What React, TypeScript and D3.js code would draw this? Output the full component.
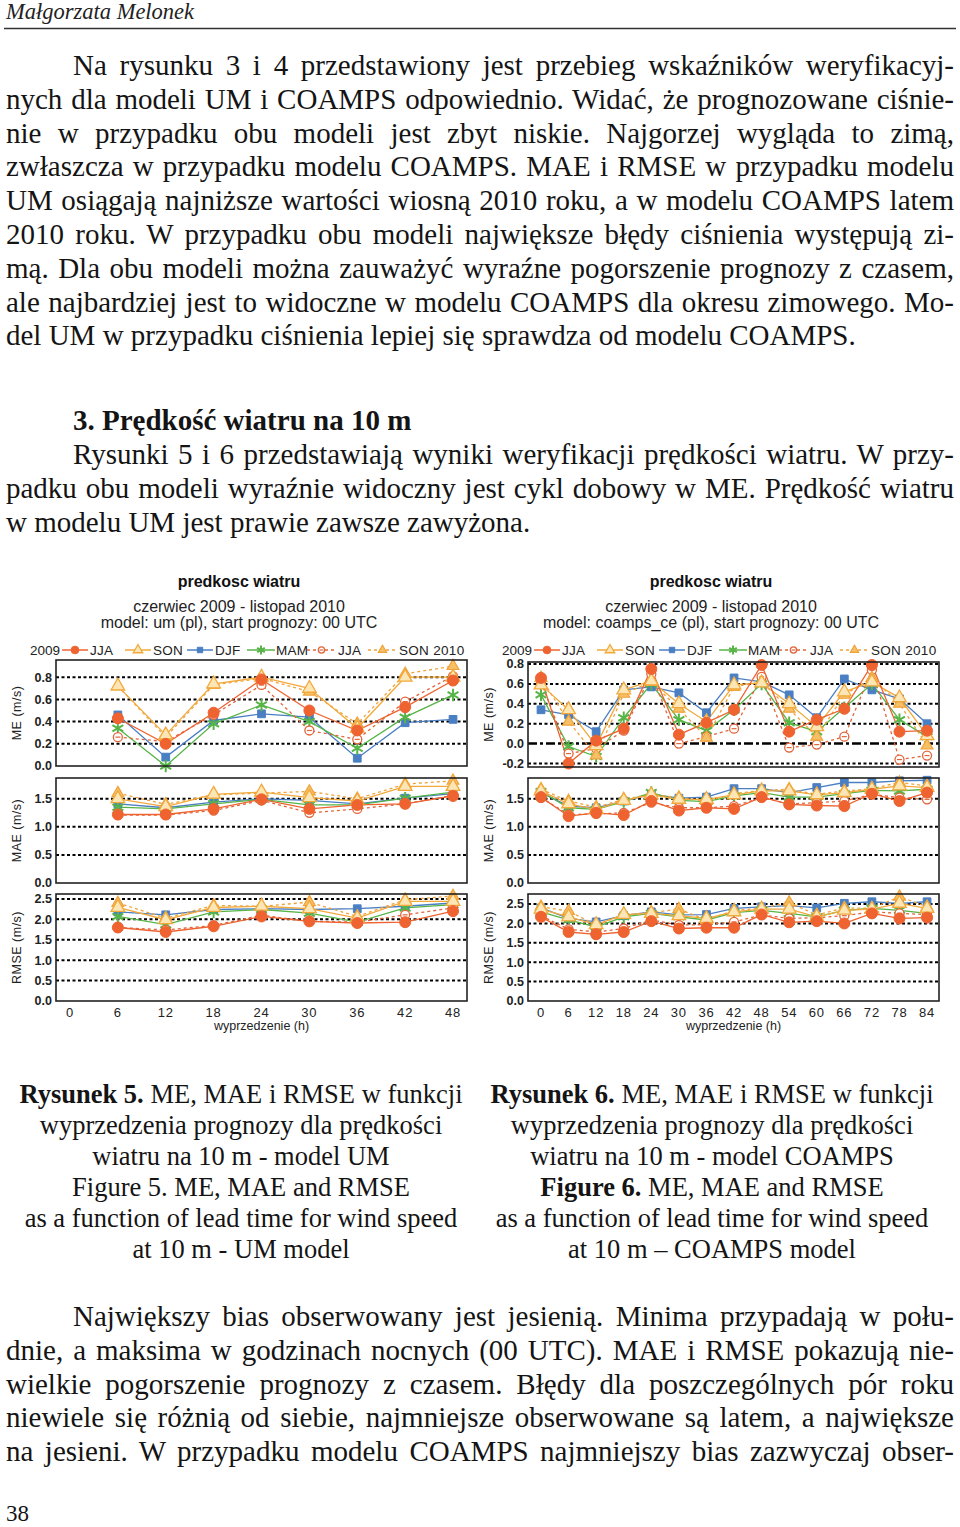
import React, { useLayoutEffect, useRef } from 'react';
import * as d3 from 'd3';

// ---------- DATA ----------
const umLeads = [6, 12, 18, 24, 30, 36, 42, 48];
const umTicks = [0, 6, 12, 18, 24, 30, 36, 42, 48];
const coLeads = [0, 6, 12, 18, 24, 30, 36, 42, 48, 54, 60, 66, 72, 78, 84];
const coTicks = [0, 6, 12, 18, 24, 30, 36, 42, 48, 54, 60, 66, 72, 78, 84];
const legendNames = ['JJA', 'SON', 'DJF', 'MAM', 'JJA', 'SON 2010'];

const meTicksUM = [0.0, 0.2, 0.4, 0.6, 0.8];
const meTicksCO = [-0.2, 0.0, 0.2, 0.4, 0.6, 0.8];
const maeTicks = [0.0, 0.5, 1.0, 1.5];
const rmseTicks = [0.0, 0.5, 1.0, 1.5, 2.0, 2.5];

// UM model
const umME_JJA09 = [0.43, 0.20, 0.48, 0.78, 0.50, 0.32, 0.53, 0.77];
const umME_SON09 = [0.72, 0.28, 0.74, 0.80, 0.70, 0.34, 0.80, 0.80];
const umME_DJF = [0.46, 0.08, 0.41, 0.47, 0.44, 0.07, 0.39, 0.42];
const umME_MAM = [0.34, 0.00, 0.38, 0.55, 0.40, 0.16, 0.44, 0.64];
const umME_JJA10 = [0.26, 0.22, 0.46, 0.73, 0.32, 0.24, 0.58, 0.81];
const umME_SON10 = [0.72, 0.26, 0.73, 0.79, 0.67, 0.38, 0.83, 0.90];

const umMAE_JJA09 = [1.22, 1.22, 1.32, 1.49, 1.32, 1.39, 1.41, 1.55];
const umMAE_SON09 = [1.50, 1.36, 1.58, 1.62, 1.52, 1.46, 1.72, 1.72];
const umMAE_DJF = [1.41, 1.34, 1.44, 1.50, 1.47, 1.41, 1.51, 1.59];
const umMAE_MAM = [1.35, 1.32, 1.41, 1.49, 1.39, 1.39, 1.51, 1.62];
const umMAE_JJA10 = [1.21, 1.21, 1.29, 1.47, 1.25, 1.32, 1.41, 1.56];
const umMAE_SON10 = [1.60, 1.40, 1.57, 1.60, 1.63, 1.50, 1.76, 1.82];

const umRMSE_JJA09 = [1.80, 1.69, 1.83, 2.07, 1.95, 1.91, 1.93, 2.20];
const umRMSE_SON09 = [2.29, 1.99, 2.29, 2.32, 2.26, 2.03, 2.44, 2.44];
const umRMSE_DJF = [2.18, 2.11, 2.24, 2.26, 2.24, 2.26, 2.32, 2.40];
const umRMSE_MAM = [2.07, 1.87, 2.18, 2.24, 2.15, 1.93, 2.28, 2.36];
const umRMSE_JJA10 = [1.80, 1.74, 1.85, 2.10, 1.95, 1.93, 2.11, 2.28];
const umRMSE_SON10 = [2.40, 2.03, 2.34, 2.32, 2.42, 2.07, 2.48, 2.57];

// COAMPS model
const coME_JJA09 = [0.66, -0.20, 0.03, 0.15, 0.75, 0.09, 0.21, 0.34, 0.79, 0.12, 0.24, 0.35, 0.79, 0.12, 0.13];
const coME_SON09 = [0.59, 0.34, -0.02, 0.54, 0.63, 0.40, 0.22, 0.59, 0.61, 0.40, 0.17, 0.52, 0.62, 0.46, 0.08];
const coME_DJF = [0.34, 0.29, 0.12, 0.54, 0.57, 0.51, 0.31, 0.66, 0.62, 0.49, 0.26, 0.65, 0.54, 0.45, 0.20];
const coME_MAM = [0.49, -0.03, -0.13, 0.26, 0.60, 0.24, 0.13, 0.34, 0.60, 0.21, 0.12, 0.36, 0.60, 0.24, 0.07];
const coME_JJA10 = [0.62, -0.10, -0.05, 0.13, 0.70, 0.00, 0.07, 0.15, 0.67, -0.04, -0.01, 0.07, 0.74, -0.16, -0.12];
const coME_SON10 = [0.66, 0.22, -0.12, 0.50, 0.62, 0.35, 0.06, 0.57, 0.62, 0.35, 0.07, 0.49, 0.66, 0.40, -0.02];

const coMAE_JJA09 = [1.53, 1.19, 1.25, 1.21, 1.46, 1.29, 1.34, 1.32, 1.53, 1.40, 1.38, 1.37, 1.59, 1.46, 1.61];
const coMAE_SON09 = [1.64, 1.41, 1.31, 1.47, 1.57, 1.49, 1.49, 1.57, 1.64, 1.64, 1.57, 1.61, 1.67, 1.73, 1.70];
const coMAE_DJF = [1.61, 1.37, 1.34, 1.46, 1.58, 1.51, 1.53, 1.68, 1.68, 1.61, 1.70, 1.79, 1.79, 1.82, 1.83];
const coMAE_MAM = [1.63, 1.34, 1.31, 1.45, 1.61, 1.47, 1.45, 1.55, 1.61, 1.53, 1.53, 1.59, 1.65, 1.64, 1.67];
const coMAE_JJA10 = [1.52, 1.22, 1.23, 1.25, 1.43, 1.34, 1.34, 1.37, 1.52, 1.41, 1.43, 1.46, 1.58, 1.52, 1.49];
const coMAE_SON10 = [1.67, 1.46, 1.35, 1.49, 1.58, 1.52, 1.46, 1.59, 1.65, 1.67, 1.58, 1.64, 1.68, 1.79, 1.73];

const coRMSE_JJA09 = [2.17, 1.78, 1.72, 1.78, 2.06, 1.87, 1.89, 1.89, 2.23, 2.03, 2.06, 2.00, 2.26, 2.13, 2.15];
const coRMSE_SON09 = [2.37, 2.17, 1.97, 2.23, 2.26, 2.20, 2.13, 2.30, 2.37, 2.37, 2.17, 2.34, 2.37, 2.52, 2.39];
const coRMSE_DJF = [2.40, 2.13, 2.04, 2.20, 2.30, 2.22, 2.23, 2.39, 2.43, 2.46, 2.40, 2.52, 2.56, 2.52, 2.56];
const coRMSE_MAM = [2.30, 2.09, 1.91, 2.17, 2.26, 2.17, 2.09, 2.28, 2.34, 2.26, 2.17, 2.34, 2.39, 2.34, 2.26];
const coRMSE_JJA10 = [2.20, 1.85, 1.78, 1.87, 2.09, 1.96, 1.97, 2.04, 2.22, 2.13, 2.15, 2.20, 2.30, 2.26, 2.23];
const coRMSE_SON10 = [2.43, 2.32, 1.96, 2.22, 2.28, 2.37, 2.09, 2.34, 2.39, 2.54, 2.22, 2.40, 2.39, 2.69, 2.43];

// ---------- STYLES ----------
const STY = [
  { color: '#EE6330', dash: null, marker: 'circle' },
  { color: '#F2A93B', dash: null, marker: 'triOpen' },
  { color: '#4A7FC3', dash: null, marker: 'square' },
  { color: '#57B447', dash: null, marker: 'star' },
  { color: '#E2643A', dash: '3,3', marker: 'circMinus' },
  { color: '#F0A23A', dash: '3,3', marker: 'triFill' },
];
const DRAW_ORDER = [2, 3, 4, 5, 1, 0];
const SANS = 'Liberation Sans, Arial, sans-serif';
const SERIF = 'Liberation Serif, Times New Roman, serif';

function Marker({ kind, x, y, color, s = 1 }: any) {
  const tr = `translate(${x},${y})`;
  switch (kind) {
    case 'circle':
      return <circle cx={x} cy={y} r={5.5 * s} fill={color} stroke={color} strokeWidth={1} />;
    case 'triOpen':
      return <path transform={tr} d={d3.symbol(d3.symbolTriangle, 80 * s * s)() as string} fill="#FCE6B6" stroke={color} strokeWidth={1.3} />;
    case 'triFill':
      return <path transform={tr} d={d3.symbol(d3.symbolTriangle, 60 * s * s)() as string} fill="#F6C067" stroke={color} strokeWidth={1.2} />;
    case 'square':
      return <path transform={tr} d={d3.symbol(d3.symbolSquare, 60 * s * s)() as string} fill={color} stroke={color} />;
    case 'star':
      return <path transform={tr} d={d3.symbol(d3.symbolAsterisk, 110 * s * s)() as string} fill="none" stroke={color} strokeWidth={2} />;
    case 'circMinus':
      return (
        <g>
          <circle cx={x} cy={y} r={4.5 * s} fill="#fff" stroke={color} strokeWidth={1.3} />
          <line x1={x - 2.5 * s} x2={x + 2.5 * s} y1={y} y2={y} stroke={color} strokeWidth={1.2} />
        </g>
      );
  }
  return null;
}

function Panel({ left, right, top, bottom, xDom, yDom, yTicks, leads, data, label, zeroDash, xTicks }: any) {
  const x = d3.scaleLinear().domain(xDom).range([left, right]);
  const y = d3.scaleLinear().domain(yDom).range([bottom, top]);
  const line = d3.line<number>().x((_, i) => x(leads[i])).y((d) => y(d));
  return (
    <g>
      <rect x={left} y={top} width={right - left} height={bottom - top} fill="#fff" />
      {yTicks.map((t: number) =>
        Math.abs(y(t) - bottom) < 1 ? null : (
          <line
            key={'g' + t}
            x1={left}
            x2={right}
            y1={y(t)}
            y2={y(t)}
            stroke="#000"
            strokeWidth={t === 0 && zeroDash ? 2.5 : 2}
            strokeDasharray={t === 0 && zeroDash ? '9,3,3,3' : '3,2.5'}
          />
        )
      )}
      {DRAW_ORDER.map((si) => (
        <path
          key={'l' + si}
          d={line(data[si]) as string}
          fill="none"
          stroke={STY[si].color}
          strokeWidth={1.3}
          strokeDasharray={STY[si].dash || undefined}
        />
      ))}
      {DRAW_ORDER.map((si) => (
        <g key={'m' + si}>
          {data[si].map((v: number, i: number) => (
            <Marker key={i} kind={STY[si].marker} x={x(leads[i])} y={y(v)} color={STY[si].color} />
          ))}
        </g>
      ))}
      <rect x={left} y={top} width={right - left} height={bottom - top} fill="none" stroke="#222" strokeWidth={1.6} />
      {yTicks.map((t: number) => (
        <text
          key={'t' + t}
          x={left - 4}
          y={y(t)}
          dy="0.35em"
          textAnchor="end"
          fontFamily={SANS}
          fontSize={12.5}
          fontWeight="bold"
          fill="#222"
        >
          {t.toFixed(1)}
        </text>
      ))}
      <text
        transform={`translate(${left - 35},${(top + bottom) / 2}) rotate(-90)`}
        textAnchor="middle"
        fontFamily={SANS}
        fontSize={12.5}
        letterSpacing={0.5}
        fill="#222"
      >
        {label}
      </text>
      {xTicks &&
        xTicks.map((t: number) => (
          <text
            key={'x' + t}
            x={x(t)}
            y={bottom + 16}
            textAnchor="middle"
            fontFamily={SANS}
            fontSize={13}
            letterSpacing={0.8}
            fill="#222"
          >
            {t}
          </text>
        ))}
      {xTicks && (
        <text x={(left + right) / 2} y={bottom + 29} textAnchor="middle" fontFamily={SANS} fontSize={12.5} fill="#222">
          wyprzedzenie (h)
        </text>
      )}
    </g>
  );
}

const LEG_OFF = [
  { l: [32, 58], t: 60 },
  { l: [95, 121], t: 123 },
  { l: [157, 183], t: 185 },
  { l: [217, 245], t: 246 },
  { l: [277, 306], t: 308 },
  { l: [338, 367], t: 369 },
];

function Chart({ left, right, modelLine, meDom, meTicks, maeDom, rmseDom, leads, xTicks, xDom, me, mae, rmse, meTop, meBottom }: any) {
  const cx = left + 183;
  const lx = left - 26;
  const ly = 650;
  return (
    <g>
      <text x={cx} y={587} textAnchor="middle" fontFamily={SANS} fontSize={16} fontWeight="bold" fill="#111">
        predkosc wiatru
      </text>
      <text x={cx} y={612} textAnchor="middle" fontFamily={SANS} fontSize={16} fill="#222">
        czerwiec 2009 - listopad 2010
      </text>
      <text x={cx} y={628} textAnchor="middle" fontFamily={SANS} fontSize={16} fill="#222">
        {modelLine}
      </text>
      <text x={lx} y={ly} dy="0.35em" fontFamily={SANS} fontSize={13.5} fill="#222">
        2009
      </text>
      {LEG_OFF.map((o, i) => (
        <g key={i}>
          <line
            x1={lx + o.l[0]}
            x2={lx + o.l[1]}
            y1={ly}
            y2={ly}
            stroke={STY[i].color}
            strokeWidth={1.5}
            strokeDasharray={STY[i].dash || undefined}
          />
          <Marker kind={STY[i].marker} x={lx + (o.l[0] + o.l[1]) / 2} y={ly} color={STY[i].color} s={0.7} />
          <text x={lx + o.t} y={ly} dy="0.35em" fontFamily={SANS} fontSize={13.5} letterSpacing={0.3} fill="#222">
            {legendNames[i]}
          </text>
        </g>
      ))}
      <Panel left={left} right={right} top={meTop} bottom={meBottom} xDom={xDom} yDom={meDom} yTicks={meTicks} leads={leads} data={me} label="ME (m/s)" zeroDash={meDom[0] < 0} />
      <Panel left={left} right={right} top={778} bottom={883} xDom={xDom} yDom={maeDom} yTicks={maeTicks} leads={leads} data={mae} label="MAE (m/s)" />
      <Panel left={left} right={right} top={894} bottom={1001} xDom={xDom} yDom={rmseDom} yTicks={rmseTicks} leads={leads} data={rmse} label="RMSE (m/s)" xTicks={xTicks} />
    </g>
  );
}

function JText({ x, y, width, justify = true, children, ...rest }: any) {
  const ref = useRef<SVGTextElement>(null);
  useLayoutEffect(() => {
    const el = ref.current;
    if (!el || !justify) return;
    el.style.wordSpacing = '0px';
    const len = el.getComputedTextLength();
    const n = ((el.textContent || '').match(/ /g) || []).length;
    if (n > 0) el.style.wordSpacing = (width - len) / n + 'px';
  }, []);
  return (
    <text ref={ref} x={x} y={y} fontFamily={SERIF} fontSize={29} fill="#141414" {...rest}>
      {children}
    </text>
  );
}

const para1 = [
  'Na rysunku 3 i 4 przedstawiony jest przebieg wskaźników weryfikacyj-',
  'nych dla modeli UM i COAMPS odpowiednio. Widać, że prognozowane ciśnie-',
  'nie w przypadku obu modeli jest zbyt niskie. Najgorzej wygląda to zimą,',
  'zwłaszcza w przypadku modelu COAMPS. MAE i RMSE w przypadku modelu',
  'UM osiągają najniższe wartości wiosną 2010 roku, a w modelu COAMPS latem',
  '2010 roku. W przypadku obu modeli największe błędy ciśnienia występują zi-',
  'mą. Dla obu modeli można zauważyć wyraźne pogorszenie prognozy z czasem,',
  'ale najbardziej jest to widoczne w modelu COAMPS dla okresu zimowego. Mo-',
  'del UM w przypadku ciśnienia lepiej się sprawdza od modelu COAMPS.',
];
const para2 = [
  'Rysunki 5 i 6 przedstawiają wyniki weryfikacji prędkości wiatru. W przy-',
  'padku obu modeli wyraźnie widoczny jest cykl dobowy w ME. Prędkość wiatru',
  'w modelu UM jest prawie zawsze zawyżona.',
];
const para3 = [
  'Największy bias obserwowany jest jesienią. Minima przypadają w połu-',
  'dnie, a maksima w godzinach nocnych (00 UTC). MAE i RMSE pokazują nie-',
  'wielkie pogorszenie prognozy z czasem. Błędy dla poszczególnych pór roku',
  'niewiele się różnią od siebie, najmniejsze obserwowane są latem, a największe',
  'na jesieni. W przypadku modelu COAMPS najmniejszy bias zazwyczaj obser-',
];
const capLeft: [string, string][] = [
  ['Rysunek 5.', ' ME, MAE i RMSE w funkcji'],
  ['', 'wyprzedzenia prognozy dla prędkości'],
  ['', 'wiatru na 10 m - model UM'],
  ['', 'Figure 5. ME, MAE and RMSE'],
  ['', 'as a function of lead time for wind speed'],
  ['', 'at 10 m - UM model'],
];
const capRight: [string, string][] = [
  ['Rysunek 6.', ' ME, MAE i RMSE w funkcji'],
  ['', 'wyprzedzenia prognozy dla prędkości'],
  ['', 'wiatru na 10 m - model COAMPS'],
  ['Figure 6.', ' ME, MAE and RMSE'],
  ['', 'as a function of lead time for wind speed'],
  ['', 'at 10 m – COAMPS model'],
];

export default function App() {
  const L = 6;
  const R = 954;
  return (
    <svg width={960} height={1527} style={{ position: 'absolute', left: 0, top: 0, background: '#fff' }}>
      <rect width={960} height={1527} fill="#fff" />
      <text x={6} y={19} fontFamily={SERIF} fontStyle="italic" fontSize={22.5} fill="#222">
        Małgorzata Melonek
      </text>
      <line x1={4} x2={956} y1={28.5} y2={28.5} stroke="#333" strokeWidth={1.3} />

      {para1.map((t, i) => (
        <JText key={'p1' + i} x={i === 0 ? 73 : L} y={75 + i * 33.8} width={i === 0 ? R - 73 : R - L} justify={i < para1.length - 1}>
          {t}
        </JText>
      ))}
      <text x={73} y={430} fontFamily={SERIF} fontSize={29} fontWeight="bold" fill="#141414">
        3. Prędkość wiatru na 10 m
      </text>
      {para2.map((t, i) => (
        <JText key={'p2' + i} x={i === 0 ? 73 : L} y={464 + i * 34} width={i === 0 ? R - 73 : R - L} justify={i < para2.length - 1}>
          {t}
        </JText>
      ))}

      <Chart
        left={56}
        right={467}
        modelLine="model: um (pl), start prognozy: 00 UTC"
        meDom={[0, 0.955]}
        meTicks={meTicksUM}
        maeDom={[0, 1.87]}
        rmseDom={[0, 2.62]}
        leads={umLeads}
        xTicks={umTicks}
        xDom={[-1.75, 49.75]}
        meTop={660}
        meBottom={766}
        me={[umME_JJA09, umME_SON09, umME_DJF, umME_MAM, umME_JJA10, umME_SON10]}
        mae={[umMAE_JJA09, umMAE_SON09, umMAE_DJF, umMAE_MAM, umMAE_JJA10, umMAE_SON10]}
        rmse={[umRMSE_JJA09, umRMSE_SON09, umRMSE_DJF, umRMSE_MAM, umRMSE_JJA10, umRMSE_SON10]}
      />
      <Chart
        left={528}
        right={939}
        modelLine="model: coamps_ce (pl), start prognozy: 00 UTC"
        meDom={[-0.235, 0.82]}
        meTicks={meTicksCO}
        maeDom={[0, 1.87]}
        rmseDom={[0, 2.76]}
        leads={coLeads}
        xTicks={coTicks}
        xDom={[-2.83, 86.6]}
        meTop={662}
        meBottom={767}
        me={[coME_JJA09, coME_SON09, coME_DJF, coME_MAM, coME_JJA10, coME_SON10]}
        mae={[coMAE_JJA09, coMAE_SON09, coMAE_DJF, coMAE_MAM, coMAE_JJA10, coMAE_SON10]}
        rmse={[coRMSE_JJA09, coRMSE_SON09, coRMSE_DJF, coRMSE_MAM, coRMSE_JJA10, coRMSE_SON10]}
      />

      {capLeft.map((c, i) => (
        <text key={'cl' + i} x={241} y={1103 + i * 31} textAnchor="middle" fontFamily={SERIF} fontSize={26.5} fill="#141414">
          {c[0] && <tspan fontWeight="bold">{c[0]}</tspan>}
          {c[1]}
        </text>
      ))}
      {capRight.map((c, i) => (
        <text key={'cr' + i} x={712} y={1103 + i * 31} textAnchor="middle" fontFamily={SERIF} fontSize={26.5} fill="#141414">
          {c[0] && <tspan fontWeight="bold">{c[0]}</tspan>}
          {c[1]}
        </text>
      ))}

      {para3.map((t, i) => (
        <JText key={'p3' + i} x={i === 0 ? 73 : L} y={1326 + i * 33.8} width={i === 0 ? R - 73 : R - L}>
          {t}
        </JText>
      ))}
      <text x={6} y={1521} fontFamily={SERIF} fontSize={23} fill="#141414">
        38
      </text>
    </svg>
  );
}
